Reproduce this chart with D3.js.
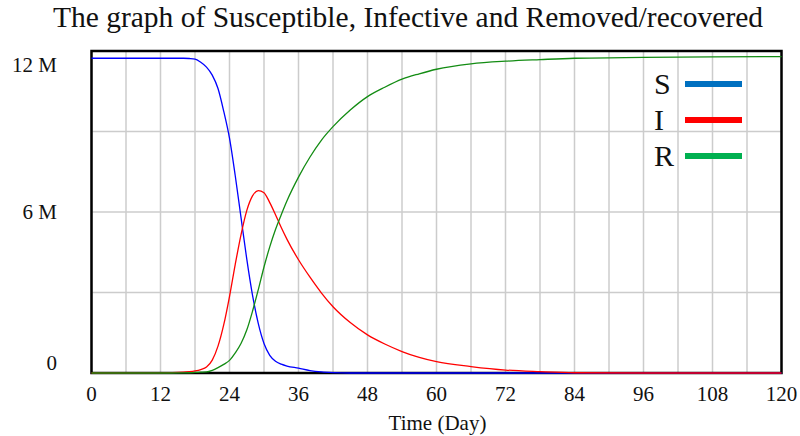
<!DOCTYPE html>
<html lang="en">
<head>
    <meta charset="UTF-8">
    <title>SIR</title>
    <script src="https://d3js.org/d3.v7.min.js"></script>
    <style>
        body { margin: 0; background: white; }
        svg text { font-family: "Liberation Serif", "Times New Roman", serif; fill: #111; }
    </style>
</head>
<body>
<div id="chart"></div>

<script>

    // values (millions of people)
    var days = [0, 12, 16, 17, 18, 19, 20, 21, 22, 23, 24, 25, 26, 27, 28, 29, 30, 31, 32, 33, 34, 36, 38, 40, 42, 45, 48, 51, 54, 57, 60, 66, 72, 78, 84, 96, 108, 120];
    var susceptible = [11.73, 11.73, 11.73, 11.72, 11.70, 11.58, 11.40, 11.10, 10.60, 9.75, 8.75, 7.35, 5.80, 4.25, 2.90, 1.85, 1.10, 0.66, 0.44, 0.33, 0.26, 0.18, 0.09, 0.04, 0.015, 0, 0, 0, 0, 0, 0, 0, 0, 0, 0, 0, 0, 0];
    var infective = [0, 0.005, 0.03, 0.05, 0.08, 0.13, 0.22, 0.48, 1.00, 1.80, 2.85, 4.05, 5.15, 6.05, 6.60, 6.80, 6.72, 6.35, 5.90, 5.42, 4.98, 4.22, 3.57, 2.98, 2.47, 1.88, 1.42, 1.08, 0.80, 0.58, 0.42, 0.24, 0.11, 0.05, 0.01, 0, 0, 0];
    var removed = [0, 0, 0.005, 0.01, 0.02, 0.03, 0.04, 0.10, 0.20, 0.32, 0.47, 0.75, 1.10, 1.60, 2.30, 3.10, 3.95, 4.70, 5.35, 5.90, 6.42, 7.30, 8.05, 8.68, 9.18, 9.80, 10.30, 10.65, 10.95, 11.15, 11.32, 11.52, 11.62, 11.68, 11.73, 11.76, 11.78, 11.79];

    var xTicks = [0, 12, 24, 36, 48, 60, 72, 84, 96, 108, 120];
    var xGrid = d3.range(0, 121, 6);
    var yTicks = [0, 6, 12];
    var yTickLabels = ["0", "6 M", "12 M"];
    var yGrid = [3, 6, 9];
    var seriesNames = ["S", "I", "R"];
    var lineColors = ["#0000ff", "#ff0000", "#138c13"];
    var legendColors = ["#0070c0", "#ff0000", "#00b050"];

    var width = 800;
    var height = 436;
    var margin = {top: 51, right: 18.5, bottom: 63, left: 91.5};

    var svg = d3.select("#chart")
        .append("svg")
        .attr("width", width)
        .attr("height", height);

    var x = d3.scaleLinear()
        .domain([0, 120])
        .range([margin.left, width - margin.right]);

    var y = d3.scaleLinear()
        .domain([0, 12])
        .range([height - margin.bottom, margin.top]);

    // title
    svg.append("text")
        .attr("x", 408)
        .attr("y", 27)
        .attr("text-anchor", "middle")
        .style("font-size", "29.5px")
        .text("The graph of Susceptible, Infective and Removed/recovered");

    // grid
    svg.selectAll(".vgrid")
        .data(xGrid)
        .enter()
        .append("line")
        .attr("class", "vgrid")
        .attr("x1", function(d) { return x(d); })
        .attr("x2", function(d) { return x(d); })
        .attr("y1", y(12))
        .attr("y2", y(0))
        .style("stroke", "#cccccc")
        .style("stroke-width", 1.5);

    svg.selectAll(".hgrid")
        .data(yGrid)
        .enter()
        .append("line")
        .attr("class", "hgrid")
        .attr("x1", x(0))
        .attr("x2", x(120))
        .attr("y1", function(d) { return y(d); })
        .attr("y2", function(d) { return y(d); })
        .style("stroke", "#cccccc")
        .style("stroke-width", 1.5);

    // frame
    svg.append("rect")
        .attr("x", x(0))
        .attr("y", y(12))
        .attr("width", x(120) - x(0))
        .attr("height", y(0) - y(12))
        .style("fill", "none")
        .style("stroke", "#000")
        .style("stroke-width", 2.5);

    // curves
    var allSeries = [susceptible, infective, removed];
    var line = d3.line()
        .x(function(d, i) { return x(days[i]); })
        .y(function(d) { return y(d); })
        .curve(d3.curveMonotoneX);

    svg.selectAll(".curve")
        .data(allSeries)
        .enter()
        .append("path")
        .attr("class", "curve")
        .attr("d", line)
        .style("fill", "none")
        .style("stroke", function(d, i) { return lineColors[i]; })
        .style("stroke-width", 1.3);

    // x axis labels
    svg.selectAll(".xlab")
        .data(xTicks)
        .enter()
        .append("text")
        .attr("class", "xlab")
        .attr("x", function(d) { return x(d); })
        .attr("y", 401)
        .attr("text-anchor", "middle")
        .style("font-size", "21px")
        .text(function(d) { return d; });

    svg.append("text")
        .attr("x", 437.5)
        .attr("y", 430)
        .attr("text-anchor", "middle")
        .style("font-size", "21px")
        .text("Time (Day)");

    // y axis labels (top one hangs below the frame, bottom one sits above it)
    var yOffsets = [-3, 7, 21];
    svg.selectAll(".ylab")
        .data(yTicks)
        .enter()
        .append("text")
        .attr("class", "ylab")
        .attr("x", 57)
        .attr("y", function(d, i) { return y(d) + yOffsets[i]; })
        .attr("text-anchor", "end")
        .style("font-size", "21px")
        .text(function(d, i) { return yTickLabels[i]; });

    // legend
    var legend = svg.selectAll(".legend")
        .data(seriesNames)
        .enter()
        .append("g")
        .attr("class", "legend")
        .attr("transform", function(d, i) { return "translate(654," + (84 + i * 36) + ")"; });

    legend.append("text")
        .attr("x", 0)
        .attr("y", 10)
        .style("font-size", "30px")
        .text(function(d) { return d; });

    legend.append("line")
        .attr("x1", 31)
        .attr("x2", 88)
        .attr("y1", 0)
        .attr("y2", 0)
        .style("stroke", function(d, i) { return legendColors[i]; })
        .style("stroke-width", 6);

</script>
</body>
</html>
